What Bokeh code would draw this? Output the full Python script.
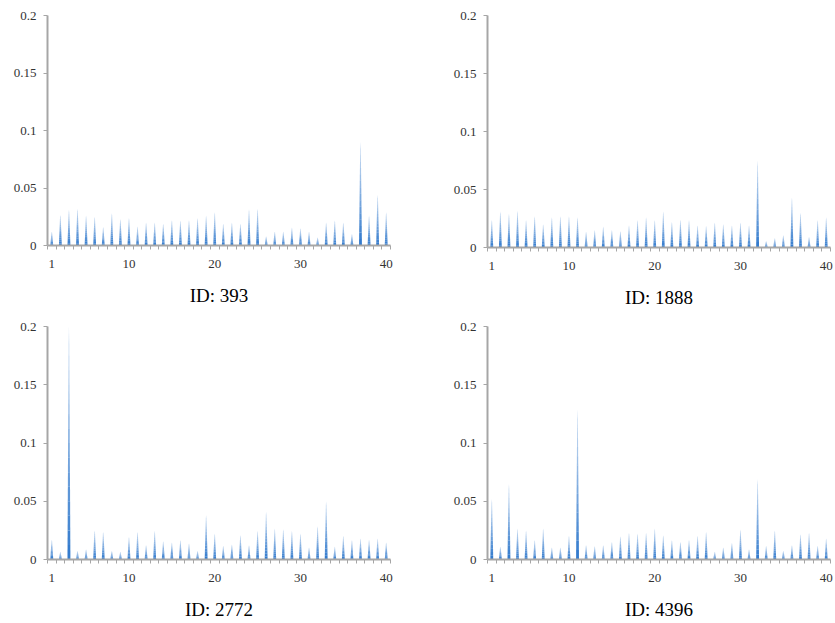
from bokeh.plotting import figure
from bokeh.layouts import gridplot
from bokeh.models import Range1d, FixedTicker
from bokeh.embed import file_html
from bokeh.resources import INLINE

categories = list(range(1, 41))

id393 = [0.012, 0.0266, 0.031, 0.032, 0.026, 0.025, 0.016, 0.028, 0.023, 0.024,
         0.0165, 0.020, 0.020, 0.019, 0.022, 0.0217, 0.022, 0.024, 0.026, 0.029,
         0.019, 0.020, 0.019, 0.0315, 0.032, 0.008, 0.012, 0.012, 0.0156, 0.015,
         0.012, 0.007, 0.020, 0.0217, 0.020, 0.010, 0.090, 0.026, 0.044, 0.029]

id1888 = [0.0236, 0.031, 0.029, 0.0316, 0.0236, 0.027, 0.020, 0.026, 0.027, 0.027,
          0.026, 0.0135, 0.015, 0.018, 0.015, 0.014, 0.019, 0.0236, 0.026, 0.0236,
          0.031, 0.022, 0.024, 0.0236, 0.019, 0.0187, 0.0216, 0.020, 0.019, 0.0216,
          0.019, 0.075, 0.0055, 0.008, 0.0106, 0.043, 0.030, 0.009, 0.0236, 0.026]

id2772 = [0.017, 0.0066, 0.200, 0.0074, 0.0086, 0.025, 0.0237, 0.0074, 0.0066, 0.0194,
          0.0237, 0.0123, 0.0246, 0.0157, 0.0146, 0.0166, 0.0137, 0.0074, 0.038, 0.0223,
          0.0117, 0.0129, 0.0209, 0.0123, 0.0246, 0.041, 0.0266, 0.026, 0.0246, 0.0223,
          0.0103, 0.0286, 0.050, 0.0109, 0.0203, 0.0166, 0.018, 0.017, 0.018, 0.0146]

id4396 = [0.052, 0.011, 0.065, 0.0266, 0.025, 0.0166, 0.0266, 0.0103, 0.0103, 0.0203,
          0.129, 0.0123, 0.0114, 0.0123, 0.0151, 0.020, 0.023, 0.0223, 0.023, 0.0266,
          0.0209, 0.0166, 0.0151, 0.017, 0.0203, 0.0237, 0.0066, 0.0103, 0.0143, 0.0257,
          0.0086, 0.069, 0.0117, 0.025, 0.0074, 0.0123, 0.0217, 0.0229, 0.0117, 0.018]

titles = ["ID: 393", "ID: 1888", "ID: 2772", "ID: 4396"]
y_ticks = [0, 0.05, 0.1, 0.15, 0.2]
y_labels = ["0", "0.05", "0.1", "0.15", "0.2"]
x_ticks = [1, 10, 20, 30, 40]

FONT = "Liberation Serif"
SPIKE = "#2f78cc"
AXIS = "#a6a6a6"
N_SLICES = 16
BASE_W = 0.17
TIP_W = 0.03


def panel(values, title, left, right, top, bottom, fw, fh):
    p = figure(frame_width=fw, frame_height=fh, output_backend="svg",
               toolbar_location=None, x_range=Range1d(0.5, 40.5),
               y_range=Range1d(0, 0.2), min_border_left=left,
               min_border_right=right, min_border_top=top,
               min_border_bottom=bottom)
    p.outline_line_color = None
    p.grid.visible = False
    p.background_fill_color = "white"
    p.border_fill_color = "white"

    xs, ys, alphas = [], [], []
    for c, v in zip(categories, values):
        for k in range(N_SLICES):
            f0 = k / N_SLICES
            f1 = (k + 1) / N_SLICES
            y0, y1 = v * f0, v * f1
            w0 = BASE_W - (BASE_W - TIP_W) * f0
            w1 = BASE_W - (BASE_W - TIP_W) * f1
            if k == N_SLICES - 1:
                w1 = 0.0
            xs.append([c - w0, c + w0, c + w1, c - w1])
            ys.append([y0, y0, y1, y1])
            alphas.append(1.0 - 0.8 * (k + 0.5) / N_SLICES)
    p.patches(xs=xs, ys=ys, fill_color=SPIKE, fill_alpha=alphas, line_color=None)

    p.yaxis.ticker = FixedTicker(ticks=y_ticks)
    p.yaxis.major_label_overrides = {t: l for t, l in zip(y_ticks, y_labels)}
    p.yaxis.major_tick_out = 4
    p.yaxis.major_tick_in = 0
    p.yaxis.minor_tick_line_color = None
    p.yaxis.major_tick_line_color = AXIS
    p.yaxis.axis_line_color = AXIS
    p.yaxis.axis_line_width = 2
    p.yaxis.major_label_standoff = 7

    p.xaxis.ticker = FixedTicker(ticks=x_ticks,
                                 minor_ticks=[c - 0.5 for c in categories] + [40.5])
    p.xaxis.major_tick_line_color = None
    p.xaxis.major_tick_out = 0
    p.xaxis.major_tick_in = 0
    p.xaxis.minor_tick_out = 4
    p.xaxis.minor_tick_in = 0
    p.xaxis.minor_tick_line_color = AXIS
    p.xaxis.axis_line_color = AXIS
    p.xaxis.axis_line_width = 2
    p.xaxis.major_label_standoff = 10
    p.xaxis.axis_label = title
    p.xaxis.axis_label_text_font = FONT
    p.xaxis.axis_label_text_font_size = "19px"
    p.xaxis.axis_label_text_font_style = "normal"
    p.xaxis.axis_label_text_color = "black"
    p.xaxis.axis_label_standoff = 14

    for ax in (p.xaxis, p.yaxis):
        ax.major_label_text_font = FONT
        ax.major_label_text_font_size = "13px"
        ax.major_label_text_color = "#333333"
    return p


p1 = panel(id393, titles[0], 47, 28, 15, 65, 343, 230)
p2 = panel(id1888, titles[1], 69, 4, 13, 65, 343, 232)
p3 = panel(id2772, titles[2], 47, 28, 16, 64, 343, 233)
p4 = panel(id4396, titles[3], 69, 4, 16, 64, 343, 233)

grid = gridplot([[p1, p2], [p3, p4]], toolbar_location=None)

open("out.html", "w").write(file_html(grid, INLINE))
